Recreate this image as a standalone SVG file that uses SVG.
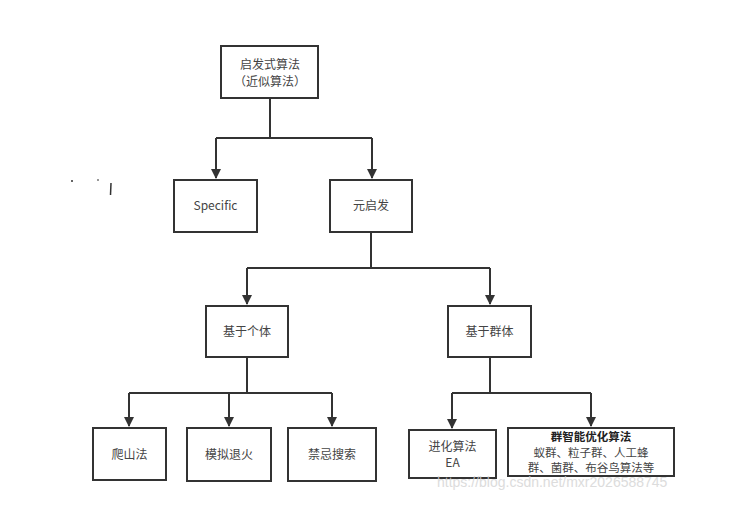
<svg xmlns="http://www.w3.org/2000/svg" width="740" height="511" viewBox="0 0 740 511">
<style>
.box{fill:#fff;stroke:#333;stroke-width:2}
.t{font-family:"Noto Sans CJK SC","Microsoft YaHei",sans-serif;font-size:12px;fill:#444;text-anchor:middle}
.s{font-size:11.5px}
.b{font-weight:bold;fill:#222}
.c{fill:none;stroke:#333;stroke-width:2}
.wm{font-family:"Liberation Sans",Arial,sans-serif;font-size:14px;fill:#d4d4d4;opacity:0.8}
</style>
<defs>
<marker id="ah" viewBox="0 0 10 10" refX="9" refY="5" markerWidth="5" markerHeight="5" orient="auto" markerUnits="strokeWidth">
<path d="M0,0 L10,5 L0,10 Z" fill="#333"/>
</marker>
</defs>
<rect width="740" height="511" fill="#fff"/>
<g id="connectors">
<path class="c" d="M270,98 V138 M216,138 H372"/>
<path class="c" d="M216,138 V178" marker-end="url(#ah)"/>
<path class="c" d="M372,138 V178" marker-end="url(#ah)"/>
<path class="c" d="M371,232 V268 M247,268 H490"/>
<path class="c" d="M247,268 V304" marker-end="url(#ah)"/>
<path class="c" d="M490,268 V304" marker-end="url(#ah)"/>
<path class="c" d="M247,357 V393 M129,393 H332"/>
<path class="c" d="M129,393 V426" marker-end="url(#ah)"/>
<path class="c" d="M229,393 V426" marker-end="url(#ah)"/>
<path class="c" d="M332,393 V426" marker-end="url(#ah)"/>
<path class="c" d="M490,357 V393 M452,393 H591"/>
<path class="c" d="M452,393 V428" marker-end="url(#ah)"/>
<path class="c" d="M591,393 V426" marker-end="url(#ah)"/>
</g>
<g id="n_root"><rect class="box" x="221" y="46" width="97" height="52"/><text class="t" x="270" y="69">启发式算法</text><text class="t" x="270" y="86">（近似算法）</text></g>
<g id="n_specific"><rect class="box" x="174" y="180" width="83" height="52"/><text class="t" x="215.5" y="210">Specific</text></g>
<g id="n_meta"><rect class="box" x="330" y="180" width="82" height="52"/><text class="t" x="371" y="210">元启发</text></g>
<g id="n_indiv"><rect class="box" x="206" y="306" width="82" height="51"/><text class="t" x="247" y="336">基于个体</text></g>
<g id="n_group"><rect class="box" x="448" y="306" width="83" height="51"/><text class="t" x="489.5" y="336">基于群体</text></g>
<g id="n_hill"><rect class="box" x="93" y="428" width="73" height="52"/><text class="t" x="129.5" y="459">爬山法</text></g>
<g id="n_sa"><rect class="box" x="187" y="428" width="84" height="53"/><text class="t" x="229" y="459">模拟退火</text></g>
<g id="n_tabu"><rect class="box" x="288" y="428" width="88" height="53"/><text class="t" x="332" y="459">禁忌搜索</text></g>
<g id="n_ea"><rect class="box" x="409" y="430" width="87" height="48"/><text class="t" x="452.5" y="451">进化算法</text><text class="t" x="452.5" y="467">EA</text></g>
<g id="n_si"><rect class="box" x="508" y="428" width="166" height="48"/><text class="t s b" x="591" y="441">群智能优化算法</text><text class="t s" x="591" y="456.5">蚁群、粒子群、人工蜂</text><text class="t s" x="591" y="472">群、菌群、布谷鸟算法等</text></g>
<g id="marks">
<rect x="71" y="180" width="2" height="2" fill="#666"/>
<rect x="97" y="179" width="2" height="2" fill="#999"/>
<path d="M111,183 L110.5,195" stroke="#333" stroke-width="1.5"/>
</g>
<text class="wm" x="437" y="487">https://blog.csdn.net/mxr2026588745</text>
</svg>
